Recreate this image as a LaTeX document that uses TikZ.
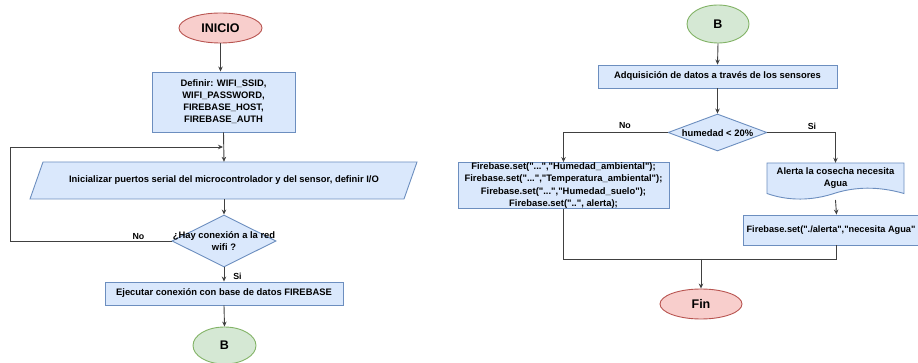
\documentclass[tikz,border=0pt]{standalone}
\usepackage{fontspec}
\setmainfont{Liberation Sans}[Ligatures=TeXOff]
\usetikzlibrary{shapes.geometric,arrows.meta}
\definecolor{bfill}{HTML}{DAE8FC}
\definecolor{bdraw}{HTML}{6C8EBF}
\definecolor{rfill}{HTML}{F8CECC}
\definecolor{rdraw}{HTML}{B85450}
\definecolor{gfill}{HTML}{D5E8D4}
\definecolor{gdraw}{HTML}{82B366}
\definecolor{linec}{HTML}{404040}
\begin{document}
\begin{tikzpicture}[x=1pt,y=-1pt,
  font=\bfseries\fontsize{9.4}{12}\selectfont,
  box/.style={draw=bdraw, fill=bfill, line width=0.9pt, inner sep=0pt, align=center},
  shapefill/.style={draw=bdraw, fill=bfill, line width=0.9pt},
  txt/.style={inner sep=0pt, align=center},
  term/.style={ellipse, draw=rdraw, fill=rfill, line width=0.9pt, inner sep=0pt, font=\bfseries\fontsize{12.5}{14}\selectfont},
  conn/.style={ellipse, draw=gdraw, fill=gfill, line width=0.9pt, inner sep=0pt, font=\bfseries\fontsize{12.5}{14}\selectfont},
  dec/.style={diamond, draw=bdraw, fill=bfill, line width=0.9pt, inner sep=0pt},
  ln/.style={draw=linec, line width=0.9pt},
  arr/.style={draw=linec, line width=0.9pt, -{Stealth[length=5pt,width=4.5pt]}},
  lbl/.style={inner sep=0pt, font=\bfseries\fontsize{8.8}{10}\selectfont}]
\useasboundingbox (0,0) rectangle (918,363);

% ---------- left flowchart ----------
\node[term, minimum width=83pt, minimum height=30pt] (inicio) at (220.5,28) {INICIO};
\node[box, minimum width=143pt, minimum height=60pt] (def) at (223.5,102)
  {Definir: WIFI\_SSID,\\WIFI\_PASSWORD,\\FIREBASE\_HOST,\\FIREBASE\_AUTH};
\draw[shapefill] (43,162) -- (417,162) -- (404,199) -- (30,199) -- cycle;
\node[txt, minimum width=374pt, minimum height=37pt] (ini) at (224,180.5)
  {Inicializar puertos serial del microcontrolador y del sensor, definir I/O};
\node[dec, minimum width=104pt, minimum height=52pt] (dia) at (224,241) {};
\node[txt] (diat) at (224,241.5) {¿Hay conexión a la red\\wifi ?};
\node[box, minimum width=238pt, minimum height=23pt] (eje) at (224,293.5)
  {Ejecutar conexión con base de datos FIREBASE};
\node[conn, minimum width=63pt, minimum height=37pt] (bl) at (224.5,345.5) {B};

\coordinate (loopx) at (10,147);
\coordinate (jn) at (223,147);
\draw[arr] (inicio.south) -- (inicio.south |- def.north);
\draw[arr] (def.south) -- (ini.north);
\draw[arr] (dia.west) -| (loopx) -- (jn);
\draw[arr] (ini.south) -- (dia.north);
\draw[arr] (dia.south) -- (eje.north);
\draw[arr] (eje.south) -- (bl.north);
\node[lbl] (nol) at (138.5,237) {No};
\node[lbl] (sil) at (237.5,276) {Si};

% ---------- right flowchart ----------
\node[conn, minimum width=62pt, minimum height=38pt] (br) at (718,24) {B};
\node[box, minimum width=239pt, minimum height=23pt] (adq) at (717.5,76.5)
  {Adquisición de datos a través de los sensores};
\node[dec, minimum width=99pt, minimum height=37pt] (hum) at (717.5,132.5) {};
\node[txt] (humt) at (717.5,133) {humedad < 20\%};
\node[box, minimum width=211pt, minimum height=45pt, font=\bfseries\fontsize{9.4}{12.4}\selectfont] (fbl) at (563.5,185.5)
  {Firebase.set("...","Humedad\_ambiental");\\Firebase.set("...","Temperatura\_ambiental");\\Firebase.set("...","Humedad\_suelo");\\Firebase.set("..", alerta);};
\draw[shapefill] (767,163) -- (904,163) -- (904,193.5)
  .. controls (878,186) and (855,187) .. (835.5,193)
  .. controls (812,201) and (788,201) .. (767,193.5) -- cycle;
\node[txt, minimum width=137pt, minimum height=30pt] (alerta) at (835.5,178)
  {Alerta la cosecha necesita\\Agua};
\coordinate (alertab) at (835.5,200);
\node[box, minimum width=187pt, minimum height=30pt] (fbal) at (836.5,230) {};
\node[txt, font=\bfseries\fontsize{9.2}{12}\selectfont] (fbalt) at (831,230)
  {Firebase.set("./alerta","necesita Agua"};
\node[term, minimum width=82pt, minimum height=30pt] (fin) at (701,304) {Fin};

\draw[arr] (br.south) -- (adq.north);
\draw[arr] (adq.south) -- (hum.north);
\draw[arr] (hum.west) -| (fbl.north);
\draw[arr] (hum.east) -| (alerta.north);
\draw[arr] (alertab) -- (fbal.north);
\coordinate (mg) at (701,259);
\draw[ln] (fbl.south) |- (mg);
\draw[ln] (fbal.south) |- (mg);
\draw[arr] (mg) -- (fin.north);
\node[lbl] (nor) at (625,126) {No};
\node[lbl] (sir) at (812,126) {Si};
\end{tikzpicture}
\end{document}
